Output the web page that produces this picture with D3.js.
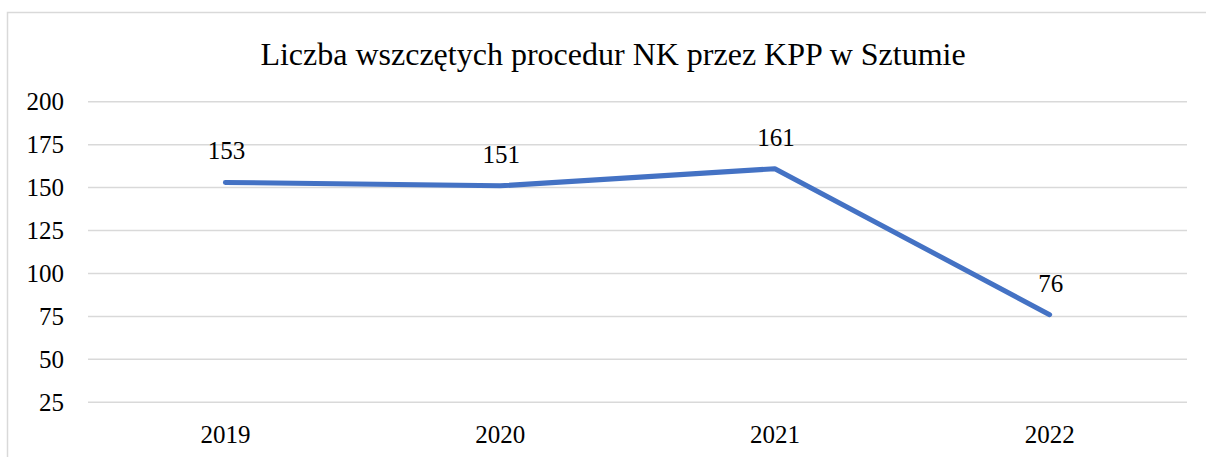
<!DOCTYPE html>
<html><head><meta charset="utf-8">
<script src="https://cdn.jsdelivr.net/npm/d3@7"></script>
<style>body{margin:0;background:#fff;} svg{display:block;} svg text{font-family:'Liberation Serif','Times New Roman',Tinos,serif;}</style>
</head><body>
<svg id="c" width="1206" height="457"></svg>
<script>
const title = "Liczba wszczętych procedur NK przez KPP w Sztumie";
const categories = ["2019","2020","2021","2022"];
const values = [153,151,161,76];
const yTicks = [25,50,75,100,125,150,175,200];

const FONT = "'Liberation Serif', 'Times New Roman', Tinos, serif";

function draw(){
const svg = d3.select("#c");
svg.selectAll("*").remove();
const plotLeft = 88, plotRight = 1187, plotTop = 101.7, plotBottom = 402.3;

svg.append("rect").attr("x",7.5).attr("y",12.5).attr("width",1300).attr("height",600)
  .attr("fill","none").attr("stroke","#d9d9d9").attr("stroke-width",1.5);

const x = d3.scaleBand().domain(categories).range([plotLeft,plotRight]).padding(0);
const y = d3.scaleLinear().domain([25,200]).range([plotBottom,plotTop]);

svg.append("g").selectAll("line").data(yTicks).join("line")
  .attr("x1",plotLeft).attr("x2",plotRight)
  .attr("y1",d=>y(d)).attr("y2",d=>y(d))
  .attr("stroke","#d9d9d9").attr("stroke-width",1.5);

const yAxis = d3.axisLeft(y).tickValues(yTicks).tickSize(0).tickPadding(0);
const gy = svg.append("g").attr("transform",`translate(64,0)`).call(yAxis);
gy.attr("font-family",null).attr("font-size",null);
gy.select(".domain").remove();
gy.selectAll("text").attr("fill","#000").attr("dy","0.33em")
  .attr("font-family",FONT).attr("font-size",25);

const xAxis = d3.axisBottom(x).tickSize(0).tickPadding(0);
const gx = svg.append("g").attr("transform",`translate(0,${plotBottom})`).call(xAxis);
gx.attr("font-family",null).attr("font-size",null);
gx.select(".domain").remove();
gx.selectAll("text").attr("fill","#000").attr("dy","0").attr("y",41)
  .attr("font-family",FONT).attr("font-size",25);

const cx = d=>x(d)+x.bandwidth()/2;
const line = d3.line().x((d,i)=>cx(categories[i])).y(d=>y(d));
svg.append("path").datum(values).attr("d",line)
  .attr("fill","none").attr("stroke","#4472C4").attr("stroke-width",5)
  .attr("stroke-linecap","round").attr("stroke-linejoin","round");

svg.append("g")
  .selectAll("text").data(values).join("text")
  .attr("x",(d,i)=>cx(categories[i])+1)
  .attr("y",d=>y(d)-23)
  .attr("text-anchor","middle")
  .attr("font-family",FONT).attr("font-size",25)
  .text(d=>d);

svg.append("text").attr("x",613).attr("y",65).attr("text-anchor","middle")
  .attr("font-family",FONT).attr("font-size",32).text(title);
}
draw();
if (document.fonts && document.fonts.load) {
  document.fonts.load("25px 'Liberation Serif'").then(draw).catch(()=>{});
}
</script>
</body></html>
